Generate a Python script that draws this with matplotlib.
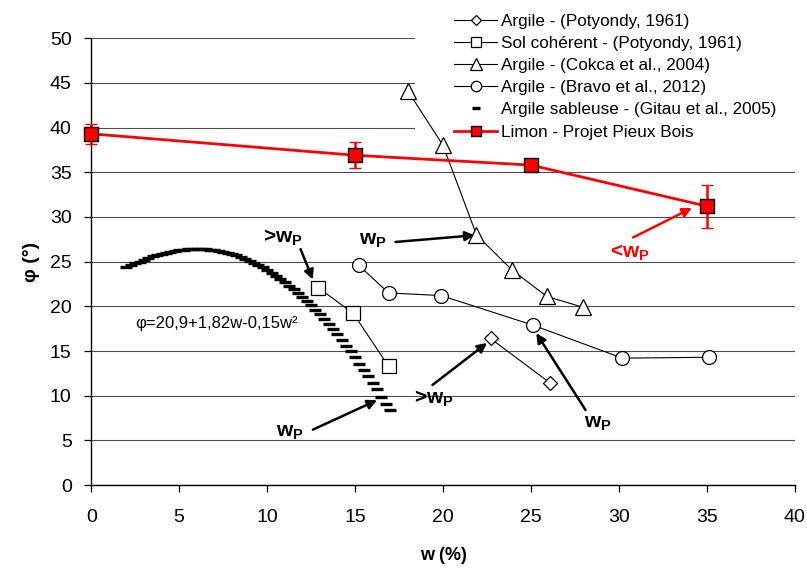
import matplotlib.pyplot as plt
from matplotlib.patches import Rectangle

plt.rcParams['font.family'] = ['Liberation Sans', 'DejaVu Sans']
plt.rcParams['mathtext.fontset'] = 'custom'
plt.rcParams['mathtext.bf'] = 'Liberation Sans:bold'
plt.rcParams['mathtext.rm'] = 'Liberation Sans'

# donnees
w_potyondy_arg = [22.7, 26.1]
phi_potyondy_arg = [16.4, 11.4]

w_potyondy_coh = [12.9, 14.9, 16.9]
phi_potyondy_coh = [22.1, 19.2, 13.3]

w_cokca = [18.0, 20.0, 21.9, 23.9, 25.9, 27.95]
phi_cokca = [44.1, 38.0, 28.0, 24.1, 21.1, 19.9]

w_bravo = [15.2, 16.9, 19.9, 25.1, 30.2, 35.1]
phi_bravo = [24.6, 21.5, 21.2, 17.9, 14.2, 14.3]

w_gitau = [2.0, 2.25, 2.5, 2.75, 3.0, 3.25, 3.5, 3.75, 4.0, 4.25, 4.5, 4.75, 5.0, 5.25,
           5.5, 5.75, 6.0, 6.25, 6.5, 6.75, 7.0, 7.25, 7.5, 7.75, 8.0, 8.25, 8.5, 8.75,
           9.0, 9.25, 9.5, 9.75, 10.0, 10.25, 10.5, 10.75, 11.0, 11.25, 11.5, 11.75,
           12.0, 12.25, 12.5, 12.75, 13.0, 13.25, 13.5, 13.75, 14.0, 14.25, 14.5, 14.75,
           15.0, 15.25, 15.5, 15.75, 16.0, 16.25, 16.5, 16.75, 17.0]
phi_gitau = [24.4, 24.6, 24.8, 25.0, 25.2, 25.4, 25.6, 25.7, 25.9, 26.0, 26.1, 26.2, 26.3, 26.35,
             26.4, 26.4, 26.45, 26.4, 26.4, 26.35, 26.3, 26.2, 26.1, 26.0, 25.9, 25.7, 25.55, 25.35,
             25.1, 24.9, 24.6, 24.35, 24.05, 23.75, 23.4, 23.05, 22.7, 22.3, 21.9, 21.5,
             21.05, 20.6, 20.1, 19.6, 19.1, 18.55, 18.0, 17.45, 16.85, 16.25, 15.6, 14.95,
             14.3, 13.6, 12.9, 12.2, 11.45, 10.7, 9.9, 9.1, 8.4]

w_limon = [0, 15, 25, 35]
phi_limon = [39.3, 36.9, 35.8, 31.2]
err_limon = [1.1, 1.45, 0.0, 2.4]

labels = ['Argile - (Potyondy, 1961)', 'Sol cohérent - (Potyondy, 1961)',
          'Argile - (Cokca et al., 2004)', 'Argile - (Bravo et al., 2012)',
          'Argile sableuse - (Gitau et al., 2005)', 'Limon - Projet Pieux Bois']

fig = plt.figure(figsize=(8.07, 5.70), dpi=100)
ax = fig.add_axes([0.113, 0.149, 0.872, 0.784])

l1, = ax.plot(w_potyondy_arg, phi_potyondy_arg, color='black', lw=0.8, marker='D', ms=7,
              mfc='white', mec='black', mew=0.9, zorder=3)
l2, = ax.plot(w_potyondy_coh, phi_potyondy_coh, color='black', lw=0.8, marker='s', ms=10,
              mfc='white', mec='black', mew=0.9, zorder=3)
l3, = ax.plot(w_cokca, phi_cokca, color='black', lw=0.8, marker='^', ms=11,
              mfc='white', mec='black', mew=0.9, zorder=3)
l4, = ax.plot(w_bravo, phi_bravo, color='black', lw=0.8, marker='o', ms=10,
              mfc='white', mec='black', mew=0.9, zorder=3)
l5, = ax.plot(w_gitau, phi_gitau, ls='none', marker='_', ms=8, mew=2.4, color='black', zorder=3)
l6 = ax.errorbar(w_limon, phi_limon, yerr=err_limon, color='red', lw=2, marker='s', ms=10,
                 mfc='red', mec='black', mew=1, ecolor='red', elinewidth=1.8, capsize=4,
                 capthick=1.8, zorder=4, clip_on=False)

# fond blanc de la legende (cache la grille mais pas les courbes)
ax.add_patch(Rectangle((18.4, 38.7), 30, 20, facecolor='white', edgecolor='none',
                       zorder=1, clip_on=False))

ax.set_xlim(0, 40)
ax.set_ylim(0, 50)
ax.set_xticks(range(0, 41, 5))
ax.set_yticks(range(0, 51, 5))
ax.tick_params(labelsize=14, direction='out', length=5, width=0.9, colors='black')
ax.tick_params(axis='x', pad=12)
ax.tick_params(axis='y', pad=9)
ax.spines['top'].set_visible(False)
ax.spines['right'].set_visible(False)
ax.spines['left'].set_linewidth(1)
ax.spines['bottom'].set_linewidth(1)
ax.yaxis.grid(True, color='0.3', lw=0.8, zorder=0.5)
ax.set_axisbelow(True)

ax.set_xlabel('w (%)', fontsize=13, fontweight='bold', labelpad=15)
ax.set_ylabel('φ (°)', fontsize=14, fontweight='bold', labelpad=7)

ax.text(2.5, 18.1, 'φ=20,9+1,82w-0,15w²', fontsize=12, va='center')

arr = dict(arrowstyle='-|>', color='black', lw=1.8, mutation_scale=14, shrinkA=0, shrinkB=0)
red_arr = dict(arr, color='red')
fs = 15
wp = r'$\mathbf{w_P}$'
ax.text(10.9, 27.7, '>' + wp, fontsize=fs, fontweight='bold', ha='center', va='center')
ax.annotate('', xy=(12.6, 23.0), xytext=(11.9, 26.4), arrowprops=arr)
ax.text(16.0, 27.4, wp, fontsize=fs, ha='center', va='center')
ax.annotate('', xy=(21.8, 27.95), xytext=(17.3, 27.2), arrowprops=arr)
ax.text(19.5, 9.7, '>' + wp, fontsize=fs, fontweight='bold', ha='center', va='center')
ax.annotate('', xy=(22.5, 15.9), xytext=(19.4, 11.2), arrowprops=arr)
ax.text(28.8, 6.9, wp, fontsize=fs, ha='center', va='center')
ax.annotate('', xy=(25.3, 17.0), xytext=(28.1, 8.4), arrowprops=arr)
ax.text(11.3, 5.9, wp, fontsize=fs, ha='center', va='center')
ax.annotate('', xy=(16.25, 9.5), xytext=(12.6, 6.2), arrowprops=arr)
ax.text(30.6, 26.0, '<' + wp, fontsize=fs, fontweight='bold', ha='center', va='center',
        color='red')
ax.annotate('', xy=(34.15, 31.0), xytext=(30.8, 27.7), arrowprops=red_arr)

# pour la legende on prend seulement la ligne rouge, sans barres d'erreur
leg = fig.legend([l1, l2, l3, l4, l5, l6[0]], labels, loc='upper left',
                 bbox_to_anchor=(0.544, 1.003), fontsize=12.3, frameon=False,
                 handlelength=2.5, handletextpad=0.2, labelspacing=0.42, borderpad=0.4,
                 markerscale=0.75)

fig.savefig('out.png', dpi=100)
